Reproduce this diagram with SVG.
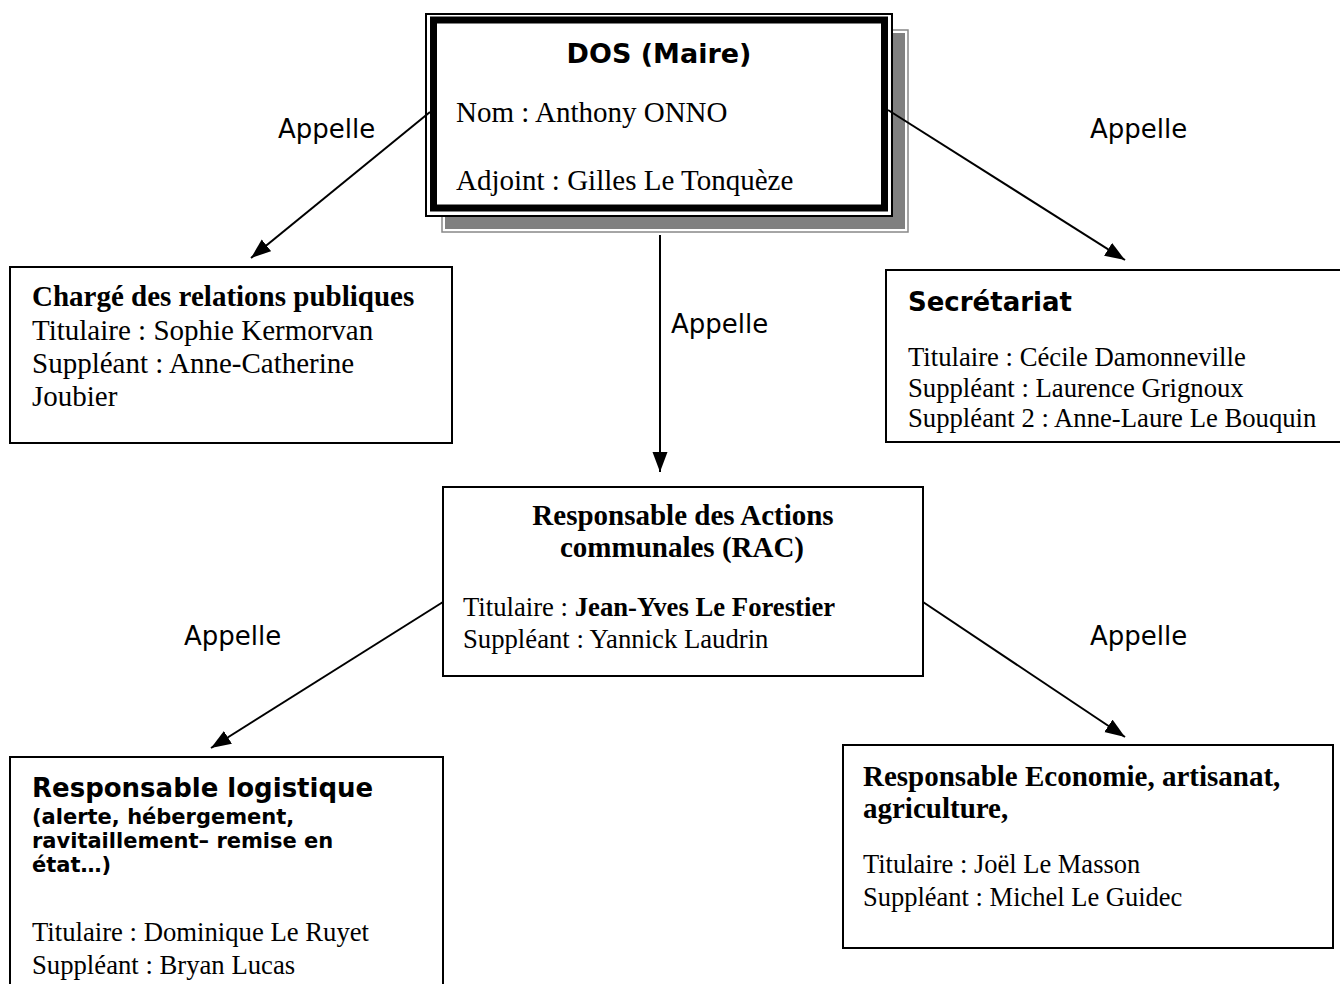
<svg xmlns="http://www.w3.org/2000/svg" width="1340" height="984" viewBox="0 0 1340 984">
<style>
.box{fill:#fff;stroke:#000;stroke-width:2}
.serif{font-family:"Liberation Serif","Times New Roman",serif;fill:#000}
.b{font-weight:bold}
.sans{font-family:"DejaVu Sans",Verdana,sans-serif;fill:#000}
.lbl{font-family:"DejaVu Sans",Verdana,sans-serif;font-size:26px;fill:#000}
.conn{stroke:#000;stroke-width:2;fill:none;marker-end:url(#ah)}
</style>
<defs>
<marker id="ah" markerUnits="userSpaceOnUse" markerWidth="22" markerHeight="16" refX="20" refY="7.5" orient="auto">
<path d="M0,0 L20,7.5 L0,15 z" fill="#000"/>
</marker>
</defs>
<rect width="1340" height="984" fill="#fff"/>

<g id="dos">
<rect x="442" y="30" width="466" height="202" fill="#fff" stroke="#888" stroke-width="1.5"/>
<rect x="445" y="33" width="460" height="196" fill="#808080"/>
<rect x="426" y="14" width="466" height="202" fill="#fff" stroke="#000" stroke-width="2"/>
<rect x="433.5" y="20" width="451" height="188" fill="#fff" stroke="#000" stroke-width="7"/>
<text class="sans b" x="659" y="63" font-size="27" text-anchor="middle">DOS (Maire)</text>
<text class="serif" x="456" y="122" font-size="29">Nom : Anthony ONNO</text>
<text class="serif" x="456" y="190" font-size="29">Adjoint : Gilles Le Tonquèze</text>
</g>

<g id="relations">
<rect class="box" x="10" y="267" width="442" height="176"/>
<text class="serif b" x="32" y="306" font-size="29">Chargé des relations publiques</text>
<text class="serif" x="32" y="340" font-size="29">Titulaire : Sophie Kermorvan</text>
<text class="serif" x="32" y="373" font-size="29">Suppléant : Anne-Catherine</text>
<text class="serif" x="32" y="406" font-size="29">Joubier</text>
</g>

<g id="secretariat">
<rect class="box" x="886" y="270" width="460" height="172"/>
<text class="sans b" x="908" y="311" font-size="26">Secrétariat</text>
<text class="serif" x="908" y="366" font-size="26.7">Titulaire : Cécile Damonneville</text>
<text class="serif" x="908" y="397" font-size="26.7">Suppléant : Laurence Grignoux</text>
<text class="serif" x="908" y="427" font-size="26.7">Suppléant 2 : Anne-Laure Le Bouquin</text>
</g>

<g id="rac">
<rect class="box" x="443" y="487" width="480" height="189"/>
<text class="serif b" x="683" y="525" font-size="29" text-anchor="middle">Responsable des Actions</text>
<text class="serif b" x="682" y="557" font-size="29" text-anchor="middle">communales (RAC)</text>
<text class="serif" x="463" y="616" font-size="26.7">Titulaire : <tspan class="b">Jean-Yves Le Forestier</tspan></text>
<text class="serif" x="463" y="648" font-size="26.7">Suppléant : Yannick Laudrin</text>
</g>

<g id="logistique">
<rect class="box" x="10" y="757" width="433" height="240"/>
<text class="sans b" x="32" y="797" font-size="26">Responsable logistique</text>
<text class="sans b" x="32" y="824" font-size="21">(alerte, hébergement,</text>
<text class="sans b" x="32" y="848" font-size="21">ravitaillement– remise en</text>
<text class="sans b" x="32" y="872" font-size="21">état…)</text>
<text class="serif" x="32" y="941" font-size="26.7">Titulaire : Dominique Le Ruyet</text>
<text class="serif" x="32" y="974" font-size="26.7">Suppléant : Bryan Lucas</text>
</g>

<g id="economie">
<rect class="box" x="843" y="745" width="490" height="203"/>
<text class="serif b" x="863" y="786" font-size="29">Responsable Economie, artisanat,</text>
<text class="serif b" x="863" y="818" font-size="29">agriculture,</text>
<text class="serif" x="863" y="873" font-size="26.5">Titulaire : Joël Le Masson</text>
<text class="serif" x="863" y="906" font-size="26.5">Suppléant : Michel Le Guidec</text>
</g>

<g id="connectors">
<line class="conn" x1="430" y1="112" x2="251" y2="258"/>
<line class="conn" x1="888" y1="110" x2="1125" y2="260"/>
<line class="conn" x1="660" y1="235" x2="660" y2="472"/>
<line class="conn" x1="443" y1="602" x2="211" y2="748"/>
<line class="conn" x1="923" y1="602" x2="1125" y2="737"/>
<text class="lbl" x="278" y="138">Appelle</text>
<text class="lbl" x="1090" y="138">Appelle</text>
<text class="lbl" x="671" y="333">Appelle</text>
<text class="lbl" x="184" y="645">Appelle</text>
<text class="lbl" x="1090" y="645">Appelle</text>
</g>
</svg>
